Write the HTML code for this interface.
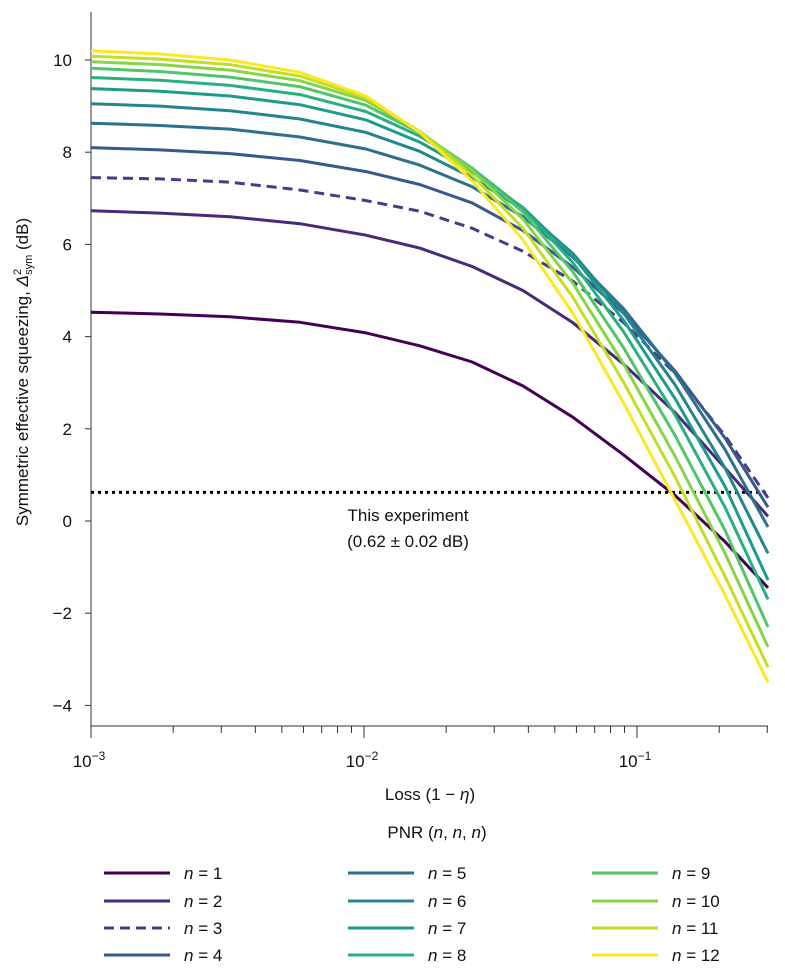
<!DOCTYPE html>
<html><head><meta charset="utf-8"><style>
body{margin:0;background:#fff;}
svg text{font-family:"Liberation Sans",sans-serif;fill:#111;}
</style></head><body>
<svg id="chart" width="785" height="973" xmlns="http://www.w3.org/2000/svg"></svg>
<script>
const lossValues=[0.001,0.00179,0.00323,0.00583,0.01017,0.016,0.0249,0.0382,0.0583,0.0895,0.138,0.21,0.302];
const seriesN1=[4.53,4.49,4.43,4.31,4.08,3.8,3.45,2.93,2.25,1.43,0.55,-0.45,-1.45];
const seriesN2=[6.73,6.68,6.6,6.45,6.2,5.92,5.52,5.0,4.3,3.4,2.35,1.15,0.1];
const seriesN3=[7.45,7.42,7.35,7.18,6.95,6.72,6.35,5.85,5.2,4.3,3.2,1.85,0.5];
const seriesN4=[8.1,8.05,7.97,7.82,7.58,7.3,6.9,6.3,5.5,4.5,3.25,1.8,0.3];
const seriesN5=[8.63,8.58,8.5,8.33,8.07,7.72,7.25,6.6,5.72,4.6,3.2,1.55,-0.13];
const seriesN6=[9.05,9.0,8.9,8.72,8.43,8.02,7.45,6.75,5.8,4.5,2.95,1.15,-0.7];
const seriesN7=[9.38,9.32,9.22,9.03,8.7,8.22,7.58,6.8,5.75,4.35,2.65,0.75,-1.28];
const seriesN8=[9.62,9.56,9.45,9.25,8.88,8.35,7.65,6.78,5.6,4.1,2.3,0.3,-1.7];
const seriesN9=[9.82,9.75,9.63,9.42,9.02,8.42,7.65,6.7,5.4,3.75,1.85,-0.2,-2.3];
const seriesN10=[9.96,9.9,9.78,9.55,9.12,8.45,7.6,6.55,5.15,3.4,1.4,-0.7,-2.73];
const seriesN11=[10.08,10.02,9.9,9.65,9.18,8.45,7.5,6.35,4.85,3.0,0.95,-1.2,-3.17];
const seriesN12=[10.2,10.13,10.0,9.73,9.22,8.43,7.38,6.1,4.5,2.55,0.45,-1.6,-3.5];
const seriesLabels=["n = 1","n = 2","n = 3","n = 4","n = 5","n = 6","n = 7","n = 8","n = 9","n = 10","n = 11","n = 12"];
const yTicks=[-4,-2,0,2,4,6,8,10];
const xTickExps=[-3,-2,-1];
const experimentValue=0.62;

const allSeries=[seriesN1,seriesN2,seriesN3,seriesN4,seriesN5,seriesN6,seriesN7,seriesN8,seriesN9,seriesN10,seriesN11,seriesN12];
const colors=["#440154","#472a7a","#433e85","#38598c","#2d708e","#25858e","#1e9b8a","#2ab07f","#52c569","#86d549","#c2df23","#fde725"];
const NS="http://www.w3.org/2000/svg";
const svg=document.getElementById('chart');
const X0=91,X1=768,DEC=273,Y0=521,PU=46.1;
function xs(v){return X0+(Math.log10(v)+3)*DEC;}
function ys(v){return Y0-v*PU;}
function mk(tag,attrs,parent){const e=document.createElementNS(NS,tag);for(const k in attrs)e.setAttribute(k,attrs[k]);(parent||svg).appendChild(e);return e;}

let ax=mk('line',{x1:X0,y1:12,x2:X0,y2:726,stroke:'#333','stroke-width':1});


let bx=mk('line',{x1:X0,y1:726,x2:X1,y2:726,stroke:'#333','stroke-width':1});


yTicks.forEach(v=>{
  mk('line',{x1:X0-6,y1:ys(v),x2:X0,y2:ys(v),stroke:'#333'});
  const t=mk('text',{x:X0-19,y:ys(v)+6,'text-anchor':'end','font-size':17});
  t.textContent=(v<0?'\u2212'+(-v):v);
  
  
});
xTickExps.forEach(e=>{
  const x=xs(Math.pow(10,e));
  mk('line',{x1:x,y1:726,x2:x,y2:738,stroke:'#333'});
  const t=mk('text',{x:x-2,y:767,'text-anchor':'middle','font-size':17});
  t.innerHTML='10<tspan dy="-7" font-size="12">\u2212'+(-e)+'</tspan>';
  
  
});
for(let e=-3;e<=-1;e++){for(let m=2;m<=9;m++){const v=m*Math.pow(10,e);if(v>0.31)break;const x=xs(v);mk('line',{x1:x,y1:726,x2:x,y2:733,stroke:'#333'});}}

let dl=mk('line',{x1:X0,y1:ys(experimentValue),x2:X1,y2:ys(experimentValue),stroke:'#000','stroke-width':3,'stroke-dasharray':'3,4'});


let et=mk('text',{x:408,y:521,'text-anchor':'middle','font-size':17});
et.textContent='This experiment';


let ev=mk('text',{x:408,y:547,'text-anchor':'middle','font-size':17});
ev.textContent='(0.62 \u00b1 0.02 dB)';



allSeries.forEach((s,i)=>{
  const d=s.map((v,j)=>(j?'L':'M')+xs(lossValues[j]).toFixed(1)+','+ys(v).toFixed(1)).join('');
  const p=mk('path',{d:d,fill:'none',stroke:colors[i],'stroke-width':3,'stroke-linejoin':'round'});
  if(i===2)p.setAttribute('stroke-dasharray','10,6');
  
  
});

let xt=mk('text',{x:430,y:800,'text-anchor':'middle','font-size':17});
xt.innerHTML='Loss (1 \u2212 <tspan font-style="italic">\u03b7</tspan>)';


let yt=mk('text',{x:0,y:0,'text-anchor':'middle','font-size':17,transform:'translate(28,372) rotate(-90)'});
yt.innerHTML='Symmetric effective squeezing, <tspan font-style="italic">\u0394</tspan><tspan dy="-7" font-size="11">2</tspan><tspan dy="11" dx="-6" font-size="11">sym</tspan><tspan dy="-4"> (dB)</tspan>';



let lt=mk('text',{x:437,y:838,'text-anchor':'middle','font-size':17});
lt.innerHTML='PNR (<tspan font-style="italic">n</tspan>, <tspan font-style="italic">n</tspan>, <tspan font-style="italic">n</tspan>)';


const colX=[104,348,592],rowY=[873,901,928,955];
seriesLabels.forEach((lab,i)=>{
  const c=Math.floor(i/4),r=i%4;
  const g=mk('g',{});
  
  
  const l=mk('line',{x1:colX[c],y1:rowY[r],x2:colX[c]+66,y2:rowY[r],stroke:colors[i],'stroke-width':3},g);
  if(i===2)l.setAttribute('stroke-dasharray','10,6');
  const t=mk('text',{x:colX[c]+80,y:rowY[r]+6,'font-size':17},g);
  t.innerHTML='<tspan font-style="italic">n</tspan> = '+lab.split('= ')[1];
});
</script>
</body></html>
